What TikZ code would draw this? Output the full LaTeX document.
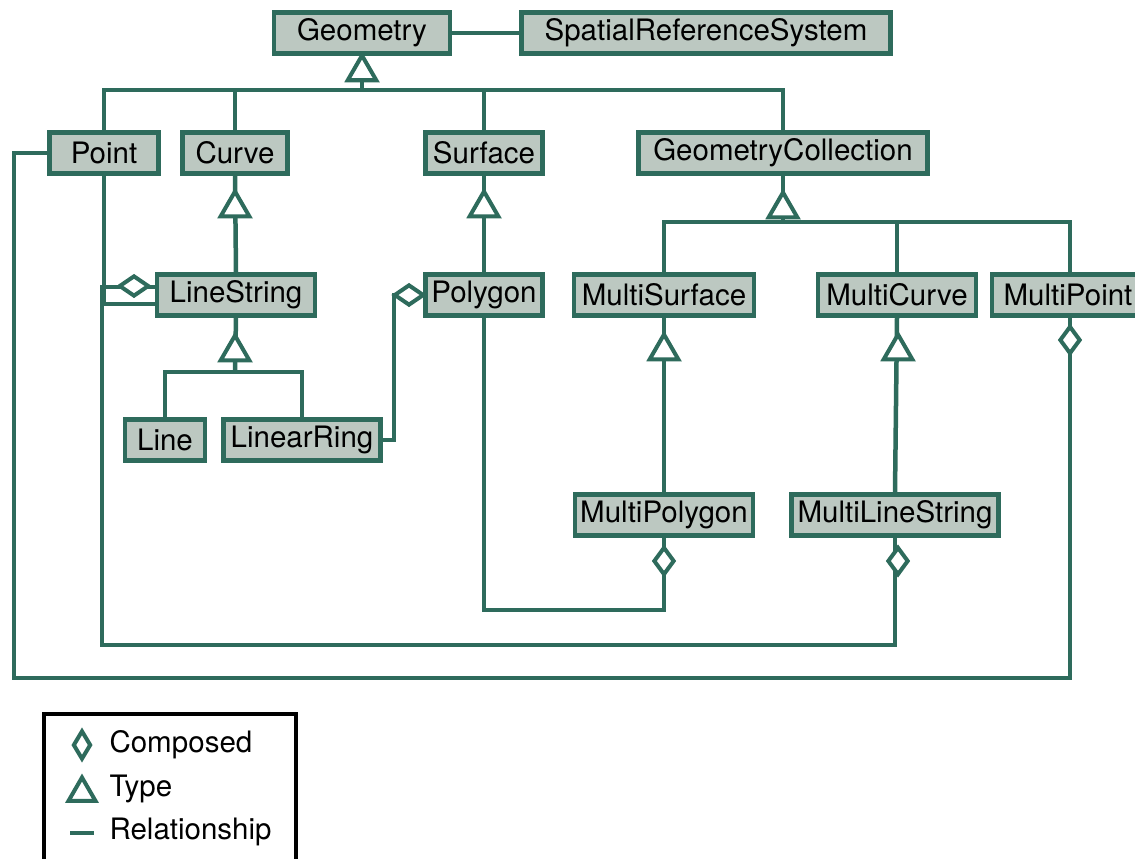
\documentclass[tikz,border=0pt]{standalone}
\usepackage{fontspec}
\setmainfont{TeX Gyre Heros}
\usetikzlibrary{shapes.geometric}
\definecolor{gline}{HTML}{2E6B5C}
\definecolor{gfill}{HTML}{BCC8C1}
\begin{document}
\begin{tikzpicture}[x=1pt,y=-1pt,
  every node/.style={font=\fontsize{29.5}{33}\selectfont},
  cls/.style={draw=gline, fill=gfill, line width=4.5pt, inner sep=0pt, minimum height=41pt},
  rel/.style={draw=gline, line width=4.5pt},
  typetri/.style={regular polygon, regular polygon sides=3, draw=gline, fill=white, line width=4pt, minimum size=33pt, inner sep=0pt},
  compdia/.style={diamond, draw=gline, fill=white, line width=4pt, inner sep=0pt},
  hdia/.style={compdia, minimum width=30pt, minimum height=21pt},
  vdia/.style={compdia, minimum width=21pt, minimum height=28pt}]
\useasboundingbox (0,0) rectangle (1135,859);

% classes
\node[cls, minimum width=176pt] (geom) at (362,33) {Geometry};
\node[cls, minimum width=369pt] (srs) at (706,33) {SpatialReferenceSystem};
\node[cls, minimum width=109pt] (point) at (104,153) {Point};
\node[cls, minimum width=105pt] (curve) at (235,153) {Curve};
\node[cls, minimum width=117pt] (surface) at (484,153) {Surface};
\node[cls, minimum width=289pt] (gc) at (783,153) {GeometryCollection};
\node[cls, minimum width=158pt] (ls) at (236,295) {LineString};
\node[cls, minimum width=117pt] (polygon) at (484,295) {Polygon};
\node[cls, minimum width=180pt] (msurf) at (664,295) {MultiSurface};
\node[cls, minimum width=158pt] (mcurve) at (897,295) {MultiCurve};
\node[cls, minimum width=152pt] (mpoint) at (1068,295) {MultiPoint};
\node[cls, minimum width=80pt] (line) at (165,440) {Line};
\node[cls, minimum width=157pt] (lring) at (302,440) {LinearRing};
\node[cls, minimum width=178pt] (mpoly) at (664,515) {MultiPolygon};
\node[cls, minimum width=207pt] (mls) at (895,515) {MultiLineString};

% bus coordinates
\coordinate (gb) at (362,90);
\coordinate (gcb) at (783,222);
\coordinate (lsb) at (235,372);
\coordinate (c1) at (102,645);
\coordinate (c2) at (484,610);
\coordinate (c3) at (14,678);
\coordinate (c4) at (394,440);
\coordinate (mpd) at (1070,318);

% relationship lines
\draw[rel] (geom.east) -- (srs.west);
\draw[rel] (geom.south) -- (gb);
\draw[rel] (point.north) |- (gb) -| (gc.north);
\draw[rel] (curve.north) -- (curve.north |- gb);
\draw[rel] (surface.north) -- (surface.north |- gb);
\draw[rel] (curve.south) -- (ls.north);
\draw[rel] (surface.south) -- (polygon.north);
\draw[rel] (gc.south) -- (gcb);
\draw[rel] (msurf.north) |- (gcb) -| (mpd |- mpoint.north);
\draw[rel] (mcurve.north) -- (mcurve.north |- gcb);
\draw[rel] (ls.south) -- (lsb);
\draw[rel] (line.north) |- (lsb) -| (lring.north);
\draw[rel] (msurf.south) -- (mpoly.north);
\draw[rel] (mcurve.south) -- (mls.north);
% compositions
\draw[rel] (point.south) |- ([yshift=-9pt]ls.west);
\draw[rel] ([yshift=8pt]ls.west) -| (c1) -| (mls.south);
\draw[rel] (polygon.south) |- (c2) -| (mpoly.south);
\draw[rel] (lring.east) -| (c4) |- (polygon.west);
\draw[rel] (point.west) -| (c3) -| (mpd);

% type triangles
\node[typetri] (t1) at (362,72) {};
\node[typetri] (t2) at (235,208) {};
\node[typetri] (t3) at (484,208) {};
\node[typetri] (t4) at (783,209) {};
\node[typetri] (t5) at (235,352) {};
\node[typetri] (t6) at (664,351) {};
\node[typetri] (t7) at (898,351) {};

% composition diamonds
\node[hdia] (d1) at (134,286) {};
\node[hdia] (d2) at (409,295) {};
\node[vdia] (d3) at (664,561) {};
\node[vdia] (d4) at (898,561) {};
\node[vdia] (d5) at (1070,340) {};

% legend
\node[draw=black, line width=3.5pt, minimum width=252pt, minimum height=170pt, anchor=north west, inner sep=0pt] (legend) at (42,712) {};
\node[compdia, minimum width=18pt, minimum height=29pt] (lgd) at (82,745) {};
\node[anchor=west] (lgdt) at (106,745) {Composed};
\node[typetri, minimum size=31pt] (lgt) at (82,793) {};
\node[anchor=west] (lgtt) at (106,789) {Type};
\coordinate (lr1) at (70,833);
\coordinate (lr2) at (94,833);
\draw[rel] (lr1) -- (lr2);
\node[anchor=west] (lgrt) at (106,832) {Relationship};
\end{tikzpicture}
\end{document}
